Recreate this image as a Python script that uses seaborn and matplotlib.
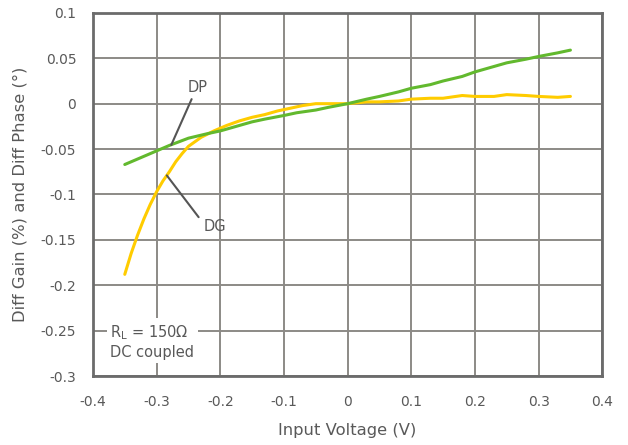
import matplotlib
matplotlib.use('Agg')
import matplotlib.pyplot as plt
import seaborn as sns
import pandas as pd

# DP (diff phase, green)
dp_x = [-0.35, -0.32, -0.30, -0.28, -0.25, -0.22, -0.20, -0.18, -0.15, -0.13, -0.10, -0.08, -0.05,
        -0.03, 0.00, 0.03, 0.05, 0.08, 0.10, 0.13, 0.15, 0.18, 0.20, 0.23, 0.25, 0.28, 0.30, 0.33, 0.35]
dp_y = [-0.067, -0.058, -0.052, -0.046, -0.038, -0.033, -0.030, -0.026, -0.020, -0.017, -0.013, -0.010, -0.007,
        -0.004, 0.000, 0.005, 0.008, 0.013, 0.017, 0.021, 0.025, 0.030, 0.035, 0.041, 0.045, 0.049, 0.052, 0.056, 0.059]

# DG (diff gain, yellow)
dg_x = [-0.35, -0.34, -0.33, -0.32, -0.31, -0.30, -0.29, -0.28, -0.27, -0.26, -0.25, -0.23, -0.21,
        -0.19, -0.17, -0.15, -0.13, -0.11, -0.09, -0.07, -0.05, -0.03, 0.00, 0.03, 0.05, 0.08,
        0.10, 0.13, 0.15, 0.18, 0.20, 0.23, 0.25, 0.28, 0.30, 0.33, 0.35]
dg_y = [-0.188, -0.165, -0.145, -0.127, -0.111, -0.097, -0.085, -0.075, -0.064, -0.055, -0.047, -0.037, -0.030,
        -0.024, -0.019, -0.015, -0.012, -0.008, -0.005, -0.002, 0.000, 0.000, 0.000, 0.002, 0.002, 0.003,
        0.005, 0.006, 0.006, 0.009, 0.008, 0.008, 0.010, 0.009, 0.008, 0.007, 0.008]

x_ticks = [-0.4, -0.3, -0.2, -0.1, 0, 0.1, 0.2, 0.3, 0.4]
x_labels = ['-0.4', '-0.3', '-0.2', '-0.1', '0', '0.1', '0.2', '0.3', '0.4']
y_ticks = [0.1, 0.05, 0, -0.05, -0.1, -0.15, -0.2, -0.25, -0.3]
y_labels = ['0.1', '0.05', '0', '-0.05', '-0.1', '-0.15', '-0.2', '-0.25', '-0.3']

TXT = '#595959'
GRID = '#8c8a86'
SPINE = '#6b6b6b'

sns.set_style('white')
plt.rcParams['font.family'] = ['DejaVu Sans']

fig = plt.figure(figsize=(6.28, 4.45), dpi=100)
ax = fig.add_axes([0.148, 0.155, 0.811, 0.816])

df_dg = pd.DataFrame({'x': dg_x, 'y': dg_y})
df_dp = pd.DataFrame({'x': dp_x, 'y': dp_y})
sns.lineplot(data=df_dg, x='x', y='y', ax=ax, color='#ffcc00', linewidth=2.2, zorder=3)
sns.lineplot(data=df_dp, x='x', y='y', ax=ax, color='#62b92e', linewidth=2.2, zorder=4)

ax.set_xlim(-0.4, 0.4)
ax.set_ylim(-0.3, 0.1)
ax.set_xticks(x_ticks)
ax.set_xticklabels(x_labels)
ax.set_yticks(y_ticks)
ax.set_yticklabels(y_labels)
ax.tick_params(length=0, labelsize=10, colors=TXT)
ax.tick_params(axis='x', pad=14)
ax.tick_params(axis='y', pad=12)
ax.grid(True, color=GRID, linewidth=1.4)
ax.set_axisbelow(True)
for s in ax.spines.values():
    s.set_color(SPINE)
    s.set_linewidth(2)

ax.set_xlabel('Input Voltage (V)', fontsize=11.8, color=TXT)
ax.set_ylabel('Diff Gain (%) and Diff Phase (°)', fontsize=11.8, color=TXT)
ax.xaxis.set_label_coords(0.5, -0.128)
ax.yaxis.set_label_coords(-0.128, 0.5)

# leader lines + labels
ax.plot([-0.245, -0.277], [0.005, -0.0455], color='#555555', lw=1.5, zorder=5)
ax.plot([-0.234, -0.284], [-0.125, -0.079], color='#555555', lw=1.5, zorder=5)
ax.text(-0.236, 0.018, 'DP', fontsize=10.5, color=TXT, ha='center', va='center')
ax.text(-0.209, -0.135, 'DG', fontsize=10.5, color=TXT, ha='center', va='center')

ax.text(-0.373, -0.262, '$\\mathregular{R_L}$ = 150Ω\nDC coupled', fontsize=10.5, color=TXT,
        ha='left', va='center', linespacing=1.2,
        bbox=dict(facecolor='white', edgecolor='none', pad=2.5), zorder=5)

fig.savefig('out.png', dpi=100)
